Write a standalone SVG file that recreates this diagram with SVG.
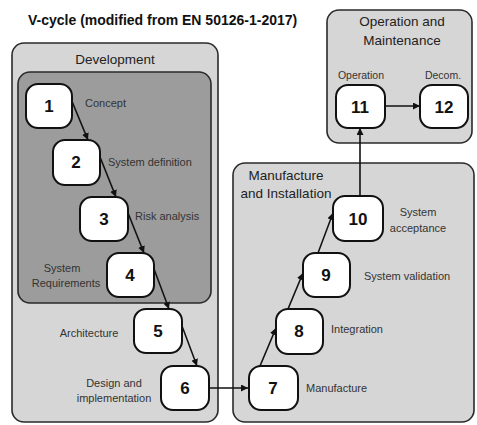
<svg xmlns="http://www.w3.org/2000/svg" width="477" height="425" viewBox="0 0 477 425">
<style>
.grp{fill:#d6d6d6;stroke:#2a2a2a;stroke-width:1.6}
.inner{fill:#9c9c9c;stroke:#2a2a2a;stroke-width:1.6}
.node rect{fill:#fff;stroke:#111;stroke-width:2}
.node text{font-family:"Liberation Sans",Arial,sans-serif;font-weight:bold;font-size:17px;fill:#111;text-anchor:middle}
.lbl{font-family:"Liberation Sans",Arial,sans-serif;font-size:11px;fill:#333}
.glbl{font-family:"Liberation Sans",Arial,sans-serif;font-size:13.5px;fill:#222}
.title{font-family:"Liberation Sans",Arial,sans-serif;font-size:14px;font-weight:bold;fill:#111}
.conn line{stroke:#111;stroke-width:1.6;marker-end:url(#ah)}
</style>
<defs>
<marker id="ah" viewBox="0 0 10 10" refX="10" refY="5" markerWidth="7" markerHeight="7" markerUnits="userSpaceOnUse" orient="auto">
<path d="M0,0 L10,5 L0,10 z" fill="#111"/>
</marker>
</defs>
<rect width="477" height="425" fill="#fff"/>
<text class="title" x="28" y="25">V-cycle (modified from EN 50126-1-2017)</text>

<g id="development">
<rect class="grp" x="12" y="43" width="206" height="379" rx="12"/>
<text class="glbl" x="115" y="64" text-anchor="middle">Development</text>
<rect class="inner" x="18" y="72" width="193" height="231" rx="12"/>
</g>
<g id="manufacture">
<rect class="grp" x="233" y="163" width="241" height="259" rx="12"/>
<text class="glbl" x="286" y="180" text-anchor="middle">Manufacture</text>
<text class="glbl" x="286" y="198" text-anchor="middle">and Installation</text>
</g>
<g id="operation-group">
<rect class="grp" x="327" y="10" width="145" height="133" rx="12"/>
<text class="glbl" x="402" y="26" text-anchor="middle">Operation and</text>
<text class="glbl" x="402" y="45" text-anchor="middle">Maintenance</text>
</g>

<g class="conn" id="connectors">
<line x1="71" y1="99" x2="88" y2="140"/>
<line x1="100" y1="157" x2="116" y2="197"/>
<line x1="128" y1="213" x2="144" y2="253"/>
<line x1="154" y1="269" x2="169" y2="309"/>
<line x1="182" y1="326" x2="197" y2="366"/>
<line x1="209" y1="388" x2="248" y2="388"/>
<line x1="260" y1="366" x2="276" y2="328"/>
<line x1="288" y1="309" x2="303" y2="273"/>
<line x1="318" y1="253" x2="333" y2="213"/>
<line x1="360" y1="196" x2="360" y2="128"/>
<line x1="385" y1="106" x2="420" y2="106"/>
</g>

<g id="n1" class="node"><rect x="26" y="84" width="46" height="44" rx="12"/><text x="49" y="112">1</text></g>
<g id="n2" class="node"><rect x="53" y="140" width="47" height="45" rx="12"/><text x="76" y="168">2</text></g>
<g id="n3" class="node"><rect x="80" y="197" width="48" height="44" rx="12"/><text x="104" y="225">3</text></g>
<g id="n4" class="node"><rect x="107" y="253" width="47" height="44" rx="12"/><text x="130" y="281">4</text></g>
<g id="n5" class="node"><rect x="134" y="309" width="48" height="44" rx="12"/><text x="158" y="337">5</text></g>
<g id="n6" class="node"><rect x="161" y="366" width="48" height="44" rx="12"/><text x="185" y="394">6</text></g>
<g id="n7" class="node"><rect x="249" y="366" width="49" height="44" rx="12"/><text x="273" y="394">7</text></g>
<g id="n8" class="node"><rect x="276" y="309" width="47" height="45" rx="12"/><text x="299" y="337">8</text></g>
<g id="n9" class="node"><rect x="303" y="253" width="47" height="44" rx="12"/><text x="326" y="281">9</text></g>
<g id="n10" class="node"><rect x="333" y="196" width="50" height="45" rx="12"/><text x="358" y="225">10</text></g>
<g id="n11" class="node"><rect x="336" y="85" width="49" height="43" rx="12"/><text x="360" y="113">11</text></g>
<g id="n12" class="node"><rect x="420" y="85" width="48" height="43" rx="12"/><text x="444" y="113">12</text></g>

<g id="labels">
<text class="lbl" x="85" y="107">Concept</text>
<text class="lbl" x="108" y="166">System definition</text>
<text class="lbl" x="135" y="220">Risk analysis</text>
<text class="lbl" x="62" y="272" text-anchor="middle">System</text>
<text class="lbl" x="66" y="287" text-anchor="middle">Requirements</text>
<text class="lbl" x="89" y="337" text-anchor="middle">Architecture</text>
<text class="lbl" x="114" y="387" text-anchor="middle">Design and</text>
<text class="lbl" x="114" y="402" text-anchor="middle">implementation</text>
<text class="lbl" x="306" y="392">Manufacture</text>
<text class="lbl" x="331" y="333">Integration</text>
<text class="lbl" x="364" y="280">System validation</text>
<text class="lbl" x="418" y="216" text-anchor="middle">System</text>
<text class="lbl" x="418" y="232" text-anchor="middle">acceptance</text>
<text class="lbl" x="361" y="79" text-anchor="middle" style="font-size:10.5px">Operation</text>
<text class="lbl" x="443" y="79" text-anchor="middle" style="font-size:10.5px">Decom.</text>
</g>
</svg>
